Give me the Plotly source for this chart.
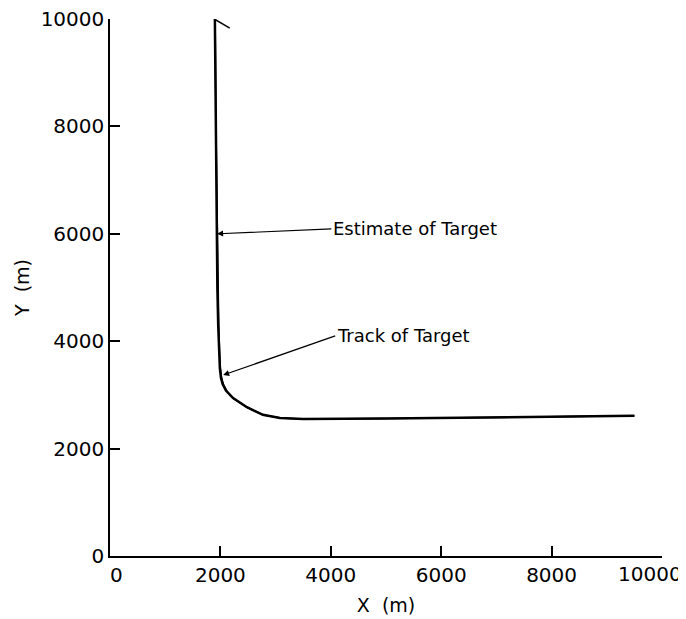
import plotly.graph_objects as go

# Track of target (true path)
track_x = [1900, 1915, 1930, 1945, 1960, 1975, 1990, 2010, 2040, 2100, 2230, 2480, 2770, 3080, 3500, 5000, 7000, 9500]
track_y = [10000, 8000, 6000, 5000, 4300, 3800, 3500, 3320, 3200, 3080, 2940, 2770, 2630, 2570, 2550, 2560, 2580, 2610]

# Estimate of target
est_x = [2170, 1905, 1920, 1940, 1955, 1970, 1985, 2000, 2025, 2060, 2120, 2240, 2490, 2780, 3090, 3500, 5000, 7000, 9500]
est_y = [9830, 9990, 8000, 6000, 5000, 4300, 3800, 3500, 3300, 3180, 3070, 2930, 2765, 2625, 2568, 2550, 2560, 2580, 2610]

tick_vals = [0, 2000, 4000, 6000, 8000, 10000]
y_tick_text = ["0", "2000", "4000", "6000", "8000", "10000"]
x_tick_text = ["0", "2000", "4000", "6000", "8000", "10000"]

FONT = "DejaVu Sans, Verdana, sans-serif"

fig = go.Figure()
fig.add_trace(go.Scatter(x=track_x, y=track_y, mode="lines",
                         line=dict(color="black", width=2.5), showlegend=False))
fig.add_trace(go.Scatter(x=est_x, y=est_y, mode="lines",
                         line=dict(color="black", width=1.5), showlegend=False))

fig.add_annotation(x=1940, y=6000, ax=4010, ay=6090, axref="x", ayref="y",
                   text="Estimate of Target", xanchor="left", yanchor="middle", showarrow=True,
                   arrowhead=2, arrowsize=1, arrowwidth=1.2, arrowcolor="black",
                   font=dict(family=FONT, size=18, color="black"))
fig.add_annotation(x=2050, y=3370, ax=4080, ay=4100, axref="x", ayref="y",
                   text="Track of Target", xanchor="left", yanchor="middle", showarrow=True,
                   arrowhead=2, arrowsize=1, arrowwidth=1.2, arrowcolor="black",
                   font=dict(family=FONT, size=18, color="black"))

# last x tick label placed so it stays inside the figure (as in the reference)
fig.add_annotation(xref="paper", yref="paper", x=1, y=0, xanchor="right", yanchor="middle",
                   xshift=22, yshift=-18, showarrow=False, text=x_tick_text[-1],
                   font=dict(family=FONT, size=20, color="black"))

axis_common = dict(range=[0, 10000], tickvals=tick_vals,
                   showgrid=False, zeroline=False, showline=True, linecolor="black",
                   linewidth=1.5, ticks="inside", ticklen=10, tickwidth=1.5,
                   tickcolor="black", automargin=False, ticklabeloverflow="allow",
                   tickfont=dict(family=FONT, size=20, color="black"))

x_shown = ["\u00a0\u00a0" + x_tick_text[0]] + x_tick_text[1:-1] + [""]

fig.update_xaxes(title=dict(text="X  (m)", font=dict(family=FONT, size=19, color="black"), standoff=13),
                 ticktext=x_shown, **axis_common)
fig.update_yaxes(title=dict(text="Y  (m)", font=dict(family=FONT, size=19, color="black"), standoff=6),
                 ticktext=y_tick_text, **axis_common)

fig.update_layout(width=678, height=611, margin=dict(l=102, r=24, t=11, b=63),
                  plot_bgcolor="white", paper_bgcolor="white")

fig.write_html("out.html")
